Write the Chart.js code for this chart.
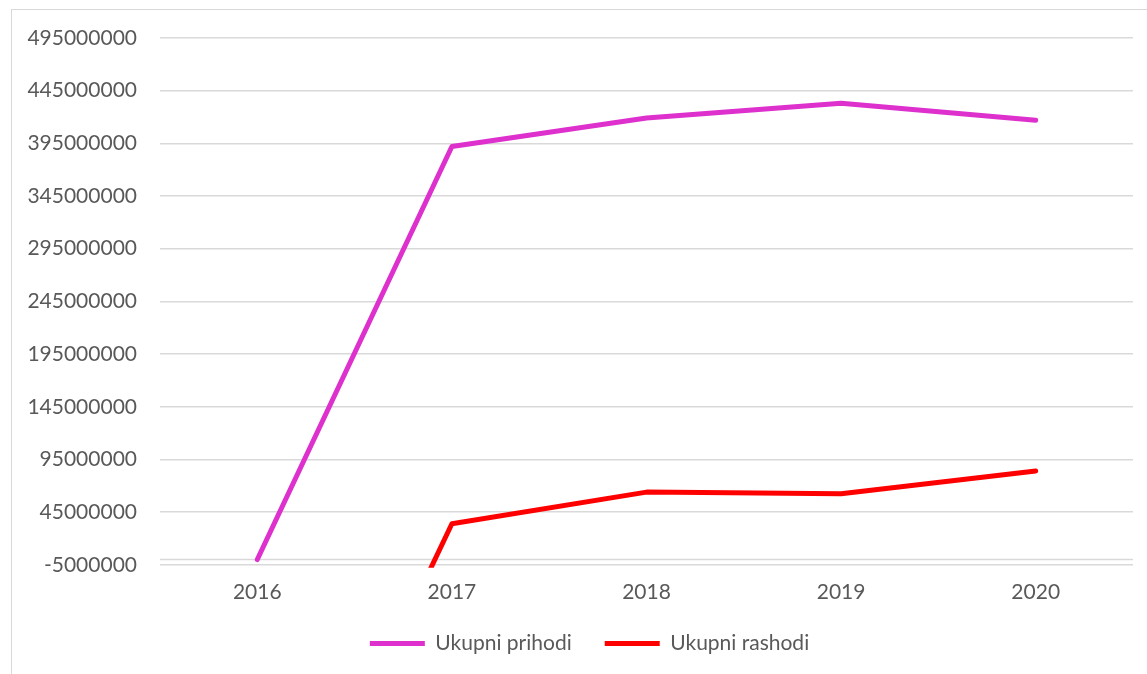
<!DOCTYPE html>
<html>
<head>
<meta charset="utf-8">
<script src="https://cdn.jsdelivr.net/npm/chart.js@4"></script>
<style>
  body { margin: 0; background: #fff; overflow: hidden; }
  #frame { position: absolute; left: 11px; top: 9px; width: 1160px; height: 700px; border: 1px solid #d9d9d9; }
  #wrap { position: absolute; left: 0; top: 0; width: 1147px; height: 674px; }
</style>
</head>
<body>
<div id="frame"></div>
<div id="wrap"><canvas id="grafico"></canvas></div>
<script>
// podaci
const godine = ['2016', '2017', '2018', '2019', '2020'];
const ukupniPrihodi = [0, 392000000, 419000000, 433000000, 417000000];
const ukupniRashodi = [-355000000, 34000000, 64000000, 62500000, 84000000];
const yTicks = [-5000000, 45000000, 95000000, 145000000, 195000000, 245000000, 295000000, 345000000, 395000000, 445000000, 495000000];

document.addEventListener('DOMContentLoaded', function() {
    // linija horizontalne osi na vrijednosti 0 (kao u Excelu)
    const nultaLinija = {
        id: 'nultaLinija',
        beforeDatasetsDraw(chart) {
            const y = chart.scales.y.getPixelForValue(0);
            const area = chart.chartArea;
            const ctx = chart.ctx;
            ctx.save();
            ctx.strokeStyle = '#d9d9d9';
            ctx.lineWidth = 1.5;
            ctx.beginPath();
            ctx.moveTo(area.left, y);
            ctx.lineTo(area.right, y);
            ctx.stroke();
            ctx.restore();
        }
    };

    // legenda malo podignuta i pomaknuta udesno
    const pomakLegende = {
        id: 'pomakLegende',
        afterLayout(chart) {
            const lg = chart.legend;
            if (lg) {
                lg.top -= 11;
                lg.bottom -= 11;
                lg.left += 23;
                lg.right += 23;
            }
        }
    };

    const ctx = document.getElementById('grafico').getContext('2d');
    new Chart(ctx, {
        type: 'line',
        data: {
            labels: godine,
            datasets: [{
                label: 'Ukupni prihodi',
                data: ukupniPrihodi,
                borderColor: '#dd30cd',
                backgroundColor: '#dd30cd',
                borderWidth: 5,
                borderCapStyle: 'round',
                borderJoinStyle: 'round',
                pointRadius: 0,
                tension: 0,
                clip: 3
            }, {
                label: 'Ukupni rashodi',
                data: ukupniRashodi,
                borderColor: '#ff0000',
                backgroundColor: '#ff0000',
                borderWidth: 5,
                borderCapStyle: 'round',
                borderJoinStyle: 'round',
                pointRadius: 0,
                tension: 0,
                clip: 3
            }]
        },
        options: {
            responsive: true,
            maintainAspectRatio: false,
            animation: false,
            layout: { padding: { top: 38, right: 14, left: 0, bottom: -1 } },
            scales: {
                x: {
                    offset: true,
                    grid: { display: false },
                    border: { display: false },
                    ticks: { color: '#595959', padding: 6.5, font: { family: 'Lato', size: 21 } }
                },
                y: {
                    min: -5000000,
                    max: 495000000,
                    afterBuildTicks: function(scale) {
                        scale.ticks = yTicks.map(v => ({ value: v }));
                    },
                    afterFit: function(scale) {
                        scale.width = 160;
                    },
                    grid: { color: '#d9d9d9', lineWidth: 1.5, drawTicks: false },
                    border: { display: false },
                    ticks: {
                        color: '#595959',
                        padding: 23,
                        font: { family: 'Lato', size: 21 },
                        callback: function(value) { return String(value); }
                    }
                }
            },
            plugins: {
                legend: {
                    display: true,
                    position: 'bottom',
                    labels: {
                        color: '#595959',
                        font: { family: 'Lato', size: 21 },
                        boxWidth: 55,
                        boxHeight: 5,
                        useBorderRadius: true,
                        borderRadius: 2.5,
                        padding: 33,
                        generateLabels: function(chart) {
                            return chart.data.datasets.map((ds, i) => ({
                                text: ds.label,
                                fillStyle: ds.borderColor,
                                strokeStyle: ds.borderColor,
                                lineWidth: 0,
                                fontColor: '#595959',
                                datasetIndex: i,
                                hidden: false
                            }));
                        }
                    }
                },
                tooltip: { enabled: false }
            }
        },
        plugins: [nultaLinija, pomakLegende]
    });
});
</script>
</body>
</html>
